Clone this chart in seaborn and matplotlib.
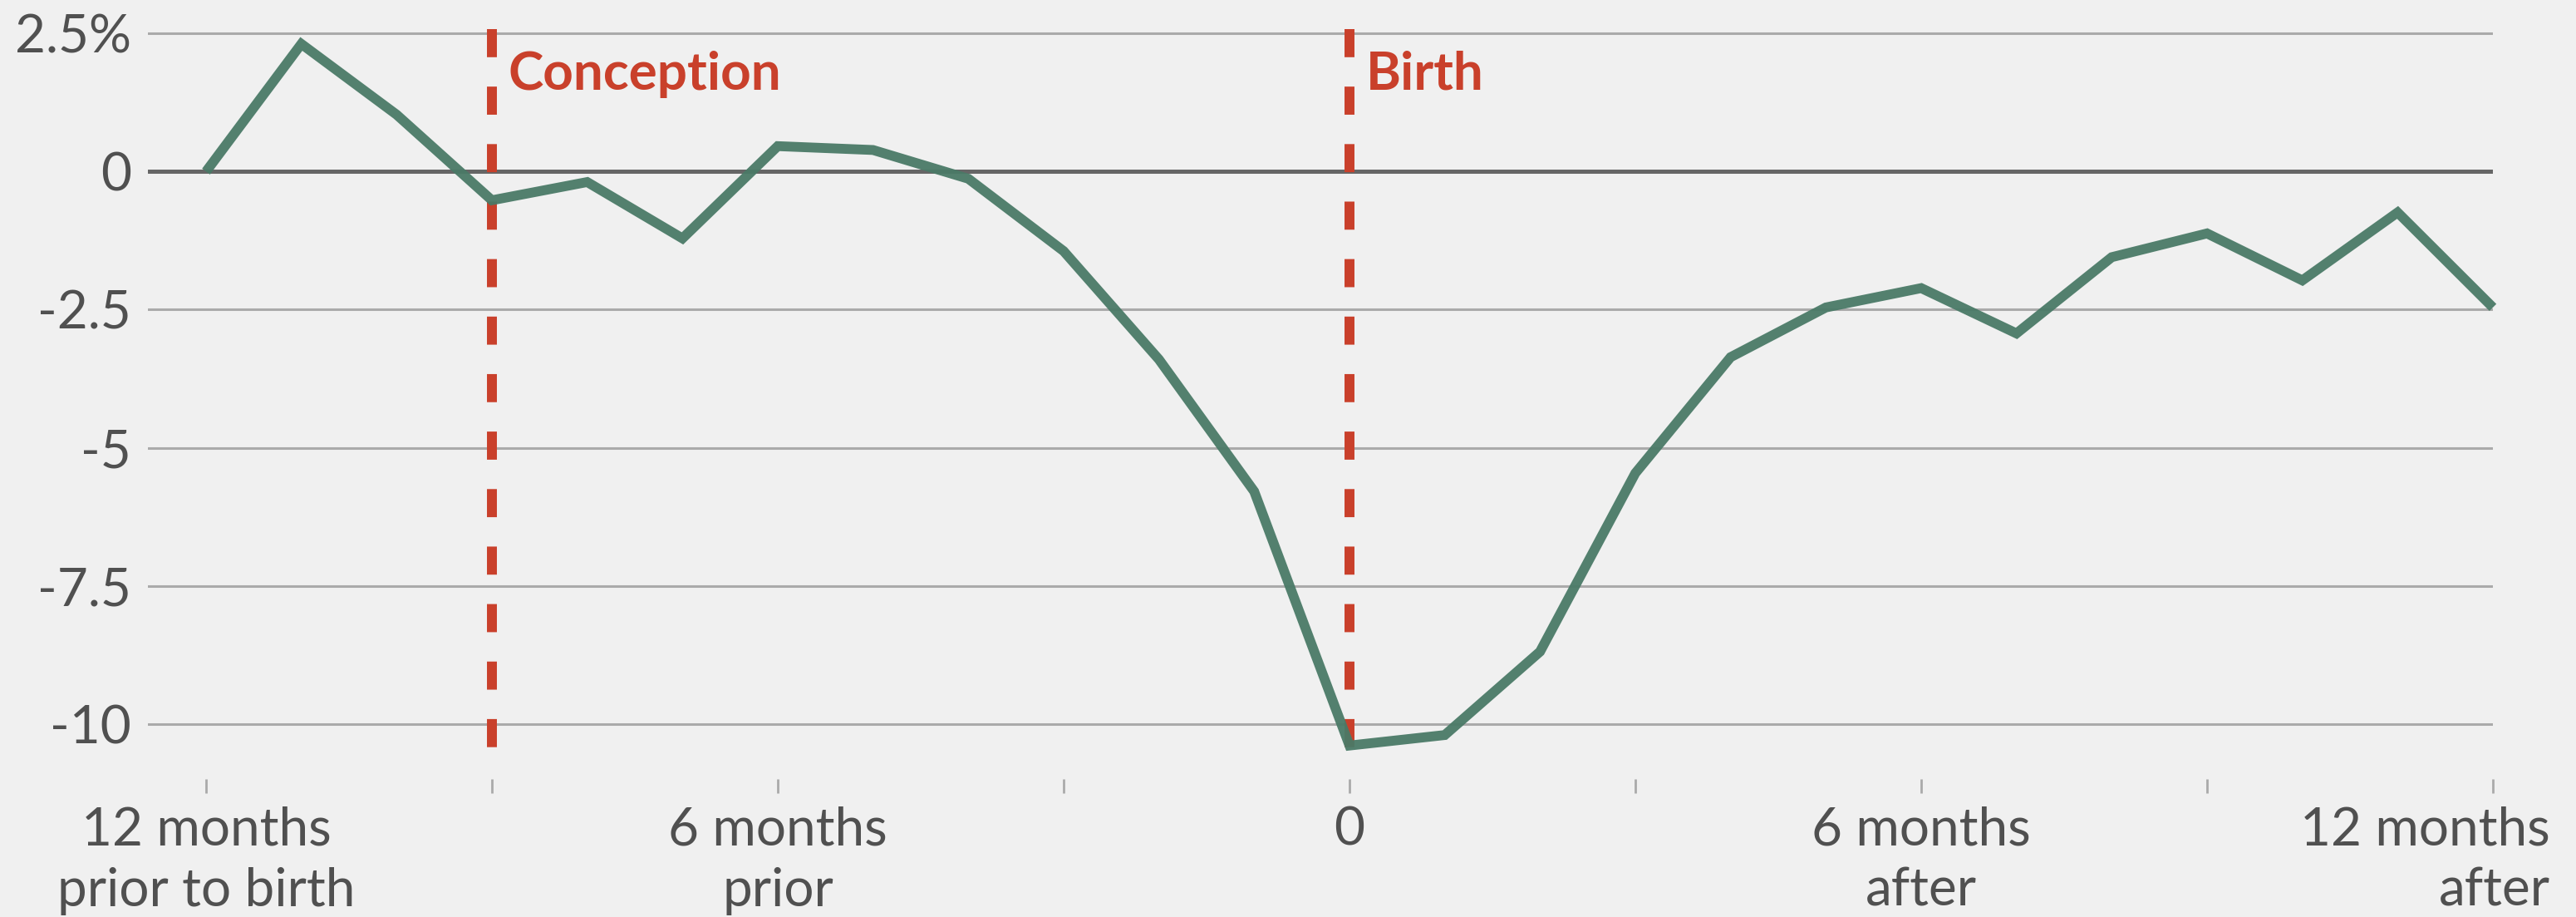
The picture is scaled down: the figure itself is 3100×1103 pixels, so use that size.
import matplotlib
matplotlib.use('Agg')
import matplotlib.pyplot as plt
import matplotlib.transforms as mtransforms
import pandas as pd
import seaborn as sns

# Cambio (%) por mes alrededor del nacimiento
months = [-12, -11, -10, -9, -8, -7, -6, -5, -4, -3, -2, -1, 0,
          1, 2, 3, 4, 5, 6, 7, 8, 9, 10, 11, 12]
change = [0.0, 2.31, 1.03, -0.52, -0.19, -1.21, 0.46, 0.39, -0.13, -1.44, -3.40, -5.79, -10.39,
          -10.20, -8.69, -5.46, -3.36, -2.46, -2.11, -2.93, -1.55, -1.12, -1.97, -0.74, -2.46]

tick_months = [-12, -9, -6, -3, 0, 3, 6, 9, 12]
tick_labels = ['12 months\nprior to birth', '', '6 months\nprior', '', '0', '',
               '6 months\nafter', '', '12 months\nafter']
y_ticks = [2.5, 0, -2.5, -5, -7.5, -10]
y_labels = ['2.5%', '0', '-2.5', '-5', '-7.5', '-10']
event_months = [-9, 0]
event_names = ['Conception', 'Birth']

bg = '#f0f0f0'
green = '#4a7a67'
red = '#c9402b'
grey_txt = '#505050'

sns.set_style('white', {'axes.facecolor': bg, 'figure.facecolor': bg})
plt.rcParams['font.family'] = ['Lato', 'DejaVu Sans']

df = pd.DataFrame({'month': months, 'change': change})

fig = plt.figure(figsize=(31, 11.03), dpi=100)
ax = fig.add_axes([178 / 3100, 1 - 937.3 / 1103, (3000 - 178) / 3100, (937.3 - 23.6) / 1103])
ax.set_xlim(-12.61, 12)
ax.set_ylim(-11.0, 2.75)

# rejilla horizontal y linea del cero
ax.set_yticks(y_ticks)
ax.set_yticklabels(y_labels)
ax.grid(axis='y', color='#aaaaaa', lw=2.2)
ax.grid(axis='x', visible=False)
ax.set_axisbelow(True)
ax.axhline(0, color='#666666', lw=3.6, zorder=1.5)

# lineas de concepcion y nacimiento
for m, name in zip(event_months, event_names):
    ax.plot([m, m], [2.58, -10.5], color=red, lw=8.6, linestyle=(0, (2.83, 2.96)),
            dash_capstyle='butt', zorder=2)
    ax.annotate(name, xy=(m, 1.48), xytext=(14, 0), textcoords='offset points',
                color=red, fontsize=46, fontweight='bold', va='baseline', ha='left')

sns.lineplot(data=df, x='month', y='change', color=green, lw=8.5, ax=ax,
             zorder=3, alpha=0.95, solid_joinstyle='miter', solid_capstyle='butt',
             clip_on=False)

ax.set_xticks(tick_months)
ax.set_xticklabels(tick_labels)
ax.tick_params(axis='x', length=12.2, width=2, color='#aaaaaa', pad=11,
               labelsize=46, labelcolor=grey_txt, direction='out', bottom=True)
ax.tick_params(axis='y', length=0, pad=14.4, labelsize=46, labelcolor=grey_txt)
for lbl in ax.get_xticklabels():
    lbl.set_linespacing(1.32)
last = ax.get_xticklabels()[-1]
last.set_ha('right')
last.set_multialignment('right')
last.set_transform(last.get_transform() + mtransforms.ScaledTranslation(0.69, 0, fig.dpi_scale_trans))

for s in ax.spines.values():
    s.set_visible(False)
ax.set_xlabel('')
ax.set_ylabel('')

fig.savefig('out.png', dpi=100, facecolor=bg)
